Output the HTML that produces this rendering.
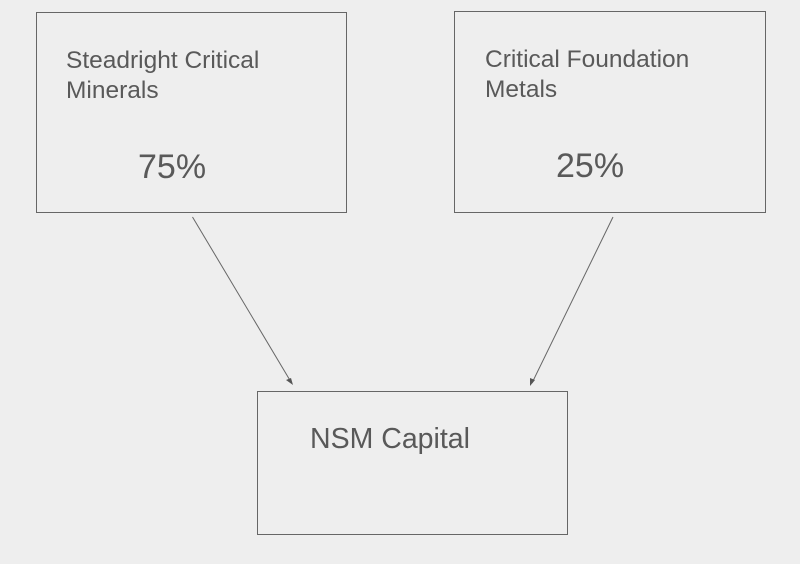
<!DOCTYPE html>
<html><head><style>
html,body{margin:0;padding:0;background:#eeeeee;}
svg{display:block;}
text{font-family:"Liberation Sans",Arial,sans-serif;fill:#595959;}
</style></head><body>
<svg width="800" height="564" viewBox="0 0 800 564">
<rect x="0" y="0" width="800" height="564" fill="#eeeeee"/>
<g fill="none" stroke="#666" stroke-width="1">
<rect x="36.5" y="12.5" width="310" height="200"/>
<rect x="454.5" y="11.5" width="311" height="201"/>
<rect x="257.5" y="391.5" width="310" height="143"/>
<line x1="192.5" y1="217" x2="291" y2="382"/>
<line x1="613" y1="217" x2="532" y2="383"/>
</g>
<polygon points="293,385 286,380 291,378" fill="#555"/>
<polygon points="530,386 530,378 535,380" fill="#555"/>
<text x="66" y="68" font-size="24.5">Steadright Critical</text>
<text x="66" y="98" font-size="24.5">Minerals</text>
<text x="138" y="178" font-size="34">75%</text>
<text x="485" y="67" font-size="24.5">Critical Foundation</text>
<text x="485" y="97" font-size="24.5">Metals</text>
<text x="556" y="177" font-size="34">25%</text>
<text x="310" y="448" font-size="28.5">NSM Capital</text>
</svg>
</body></html>
